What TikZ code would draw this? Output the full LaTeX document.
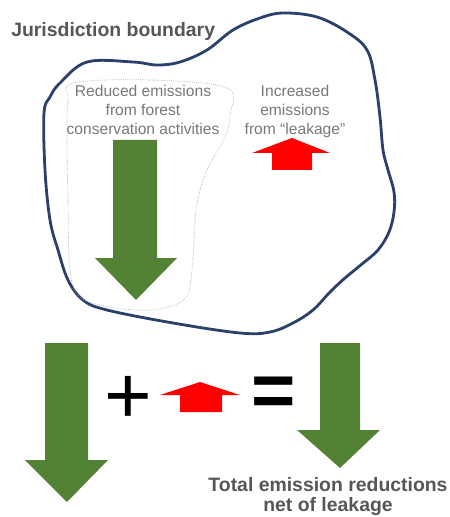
\documentclass[tikz,border=0pt]{standalone}
\usepackage{fontspec}
\setmainfont{Liberation Sans}
\usetikzlibrary{positioning}

\definecolor{leafgreen}{RGB}{84,130,53}
\definecolor{boundblue}{RGB}{44,64,108}
\definecolor{labelgray}{RGB}{85,85,90}
\definecolor{notegray}{RGB}{120,120,120}

\tikzset{
  greenarrow/.style={fill=leafgreen},
  redarrow/.style={fill=red},
  heading/.style={font=\fontsize{13.8}{14.4}\selectfont\bfseries,text=labelgray,inner sep=0pt},
  note/.style={font=\fontsize{11.1}{13.5}\selectfont,text=notegray,align=center,inner sep=0pt},
  sign/.style={font=\fontsize{58}{58}\selectfont,inner sep=0pt}
}

\begin{document}
\begin{tikzpicture}[x=0.025cm,y=-0.025cm,join=round]
\useasboundingbox (0,0) rectangle (449,517);
% jurisdiction boundary
\draw[boundblue,line width=2pt] plot[smooth cycle,tension=0.6] coordinates {
  (44,113) (50,97) (60,83) (87,62) (133,62) (157,65) (180,62) (207,50) (233,30)
  (260,18) (283,13) (317,17) (347,32) (367,50) (375,80) (380,117) (383,150)
  (388,170) (394,192) (394,212) (389,232) (378,250) (362,264) (345,278)
  (330,292) (313,310) (293,323) (270,332) (240,333) (173,323) (107,310)
  (83,300) (68,280) (58,250) (50,220) (45,170)};
% dotted area of the activities
\draw[gray!70,densely dotted,line width=0.5pt] plot[smooth cycle,tension=0.6] coordinates {
  (73,83) (150,80) (227,88) (230,115) (225,137) (207,170) (197,203) (194,240)
  (192,270) (186,297) (165,308) (140,310) (110,307) (80,297) (70,270) (68,203)
  (67,137) (68,100)};
\node[heading,anchor=base west] (title) at (11,37) {Jurisdiction boundary};
\node[note,anchor=north] (reduced) at (143,85) {Reduced emissions\\from forest\\conservation activities};
\node[note,anchor=north] (leak) at (295,85) {Increased\\emissions\\from “leakage”};
% arrows inside
\fill[greenarrow] (113,140) -- (157,140) -- (157,258) -- (177,258) -- (136,300) -- (95,258) -- (113,258) -- cycle;
\fill[redarrow] (272,170) -- (272,153) -- (252,153) -- (292,138) -- (330,153) -- (312,153) -- (312,170) -- cycle;
% sum below
\fill[greenarrow] (45,343) -- (88,343) -- (88,460) -- (108,460) -- (67,502) -- (25,460) -- (45,460) -- cycle;
\node[sign] (plus) at (128,400) {+};
\fill[redarrow] (180,412) -- (180,395) -- (160,395) -- (200,382) -- (240,395) -- (222,395) -- (222,412) -- cycle;
\node[sign,font=\fontsize{54}{54}\selectfont\bfseries] (equals) at (273.5,397) {=};
\fill[greenarrow] (320,343) -- (360,343) -- (360,430) -- (380,430) -- (340,468) -- (297,430) -- (320,430) -- cycle;
\node[heading,align=center,anchor=north] (total) at (328,477) {Total emission reductions\\net of leakage};
\end{tikzpicture}
\end{document}
